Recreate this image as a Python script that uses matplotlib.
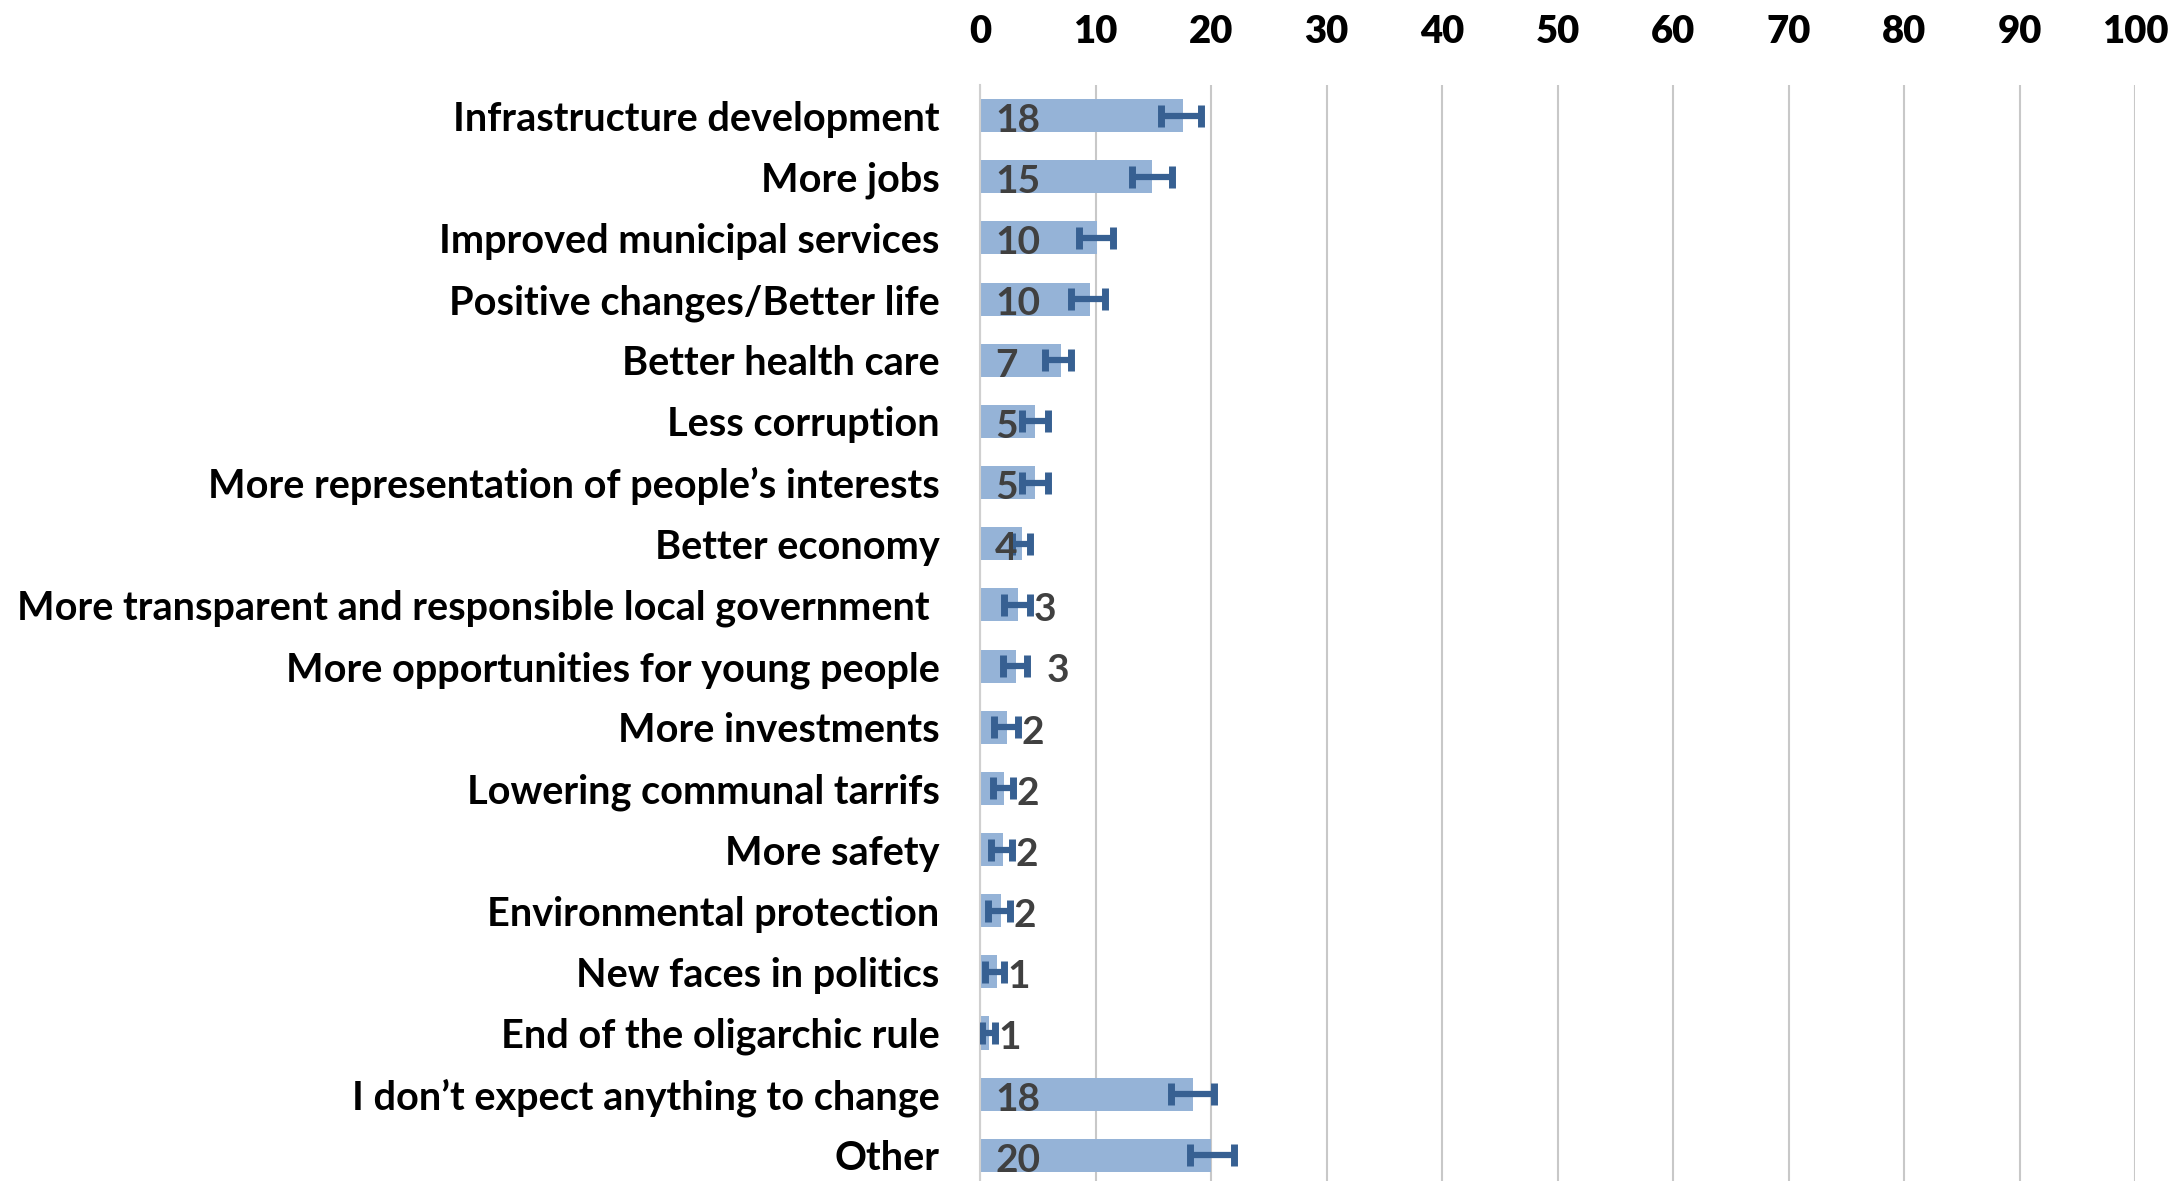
import matplotlib.pyplot as plt
import numpy as np

# survey answers (percent)
categories = [
    "Infrastructure development",
    "More jobs",
    "Improved municipal services",
    "Positive changes/Better life",
    "Better health care",
    "Less corruption",
    "More representation of people\u2019s interests",
    "Better economy",
    "More transparent and responsible local government ",
    "More opportunities for young people",
    "More investments",
    "Lowering communal tarrifs",
    "More safety",
    "Environmental protection",
    "New faces in politics",
    "End of the oligarchic rule",
    "I don\u2019t expect anything to change",
    "Other",
]
values = [17.6, 14.9, 10.1, 9.5, 7.0, 4.8, 4.8, 3.6, 3.3, 3.1, 2.35, 2.1, 1.95, 1.8, 1.45, 0.8, 18.4, 20.0]
err_low = [15.7, 13.2, 8.6, 7.9, 5.6, 3.6, 3.6, 2.8, 2.1, 2.0, 1.25, 1.1, 0.95, 0.7, 0.45, 0.15, 16.5, 18.2]
err_high = [19.1, 16.6, 11.5, 10.8, 7.9, 5.9, 5.9, 4.3, 4.35, 4.1, 3.3, 2.9, 2.75, 2.6, 2.1, 1.3, 20.3, 22.0]
value_labels = ["18", "15", "10", "10", "7", "5", "5", "4", "3", "3", "2", "2", "2", "2", "1", "1", "18", "20"]

BAR = "#95B3D7"
ERR = "#376092"
FONT = "Lato"

y = np.arange(len(categories))
vals = np.array(values)
xerr = np.vstack([vals - np.array(err_low), np.array(err_high) - vals])

fig = plt.figure(figsize=(21.74, 11.81), dpi=100)
ax = fig.add_axes([980 / 2174, 0.0, (2135 - 980) / 2174, 1 - 85 / 1181])

ax.barh(y, vals, height=0.54, color=BAR, zorder=2)
ax.errorbar(vals, y, xerr=xerr, fmt="none", ecolor=ERR, elinewidth=4.5,
            capsize=8, capthick=5, zorder=3)

# value labels: inside the bar base for big bars, after the error bar for small ones
for i, (v, hi, lab) in enumerate(zip(vals, err_high, value_labels)):
    if v >= 3.5:
        x = 1.3
    else:
        x = hi + 0.3
    if lab == "3" and i == 9:
        x += 1.4  # this one sits further out in the original
    ax.text(x, i + 0.08, lab, ha="left", va="center", fontsize=28, fontweight="bold",
            color="#404040", family=FONT, zorder=4)

ax.set_xlim(0, 100)
ax.set_ylim(17.42, -0.5)
ax.set_xticks(np.arange(0, 101, 10))
ax.xaxis.tick_top()
ax.set_yticks(y)
ax.set_yticklabels(categories)
ax.tick_params(axis="both", length=0)
ax.tick_params(axis="x", pad=26)
ax.tick_params(axis="y", pad=29)
for lab in ax.get_xticklabels():
    lab.set_fontsize(27.5)
    lab.set_fontweight("heavy")
    lab.set_family(FONT)
for lab in ax.get_yticklabels():
    lab.set_fontsize(28.5)
    lab.set_fontweight("bold")
    lab.set_family(FONT)
    lab.set_color("black")

ax.grid(axis="x", color="#C8C8C8", linewidth=1.5, zorder=0)
for s in ["top", "right", "bottom"]:
    ax.spines[s].set_visible(False)
ax.spines["left"].set_color("#D0D0D0")
ax.spines["left"].set_linewidth(1.5)

fig.savefig("out.png", dpi=100)
